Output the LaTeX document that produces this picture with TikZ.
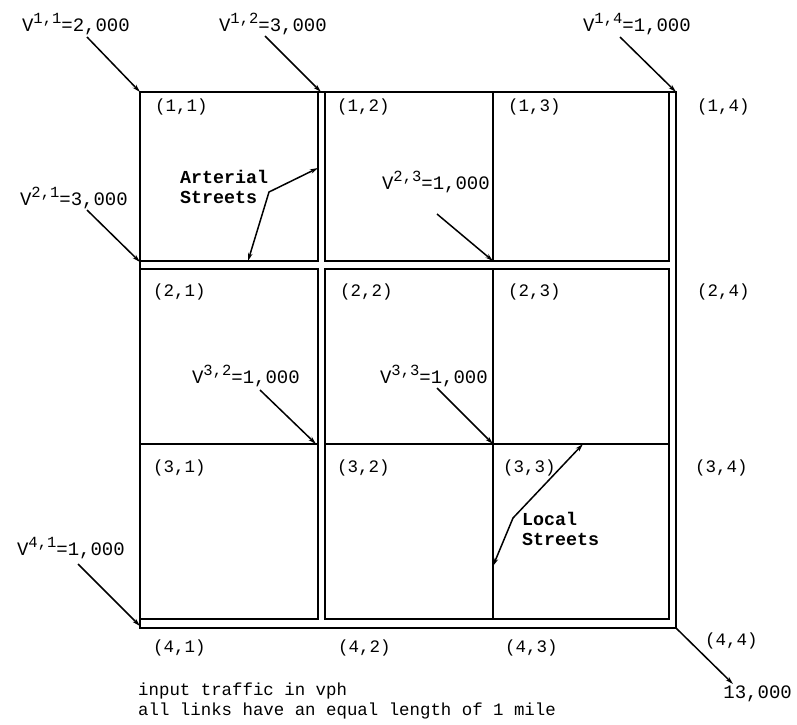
\documentclass[tikz,border=0pt]{standalone}
\usepackage{fontspec}
\newfontfamily\tw{Liberation Mono}
\usetikzlibrary{arrows.meta}
\newcommand\Vin[2]{V\raisebox{8pt}{\fontsize{15.5}{16}\selectfont #1}=#2}
\begin{document}
\begin{tikzpicture}[x=1pt,y=-1pt,
  street/.style={line width=1.7pt, line cap=rect},
  cell/.style={font=\tw\fontsize{17.5}{20}\selectfont, anchor=base west, inner sep=0pt},
  vlab/.style={font=\tw\fontsize{19}{22}\selectfont, anchor=base east, inner sep=0pt},
  note/.style={font=\tw\fontsize{17.4}{20}\selectfont, anchor=base west, inner sep=0pt},
  boldlab/.style={font=\tw\bfseries\fontsize{18.3}{20}\selectfont, anchor=base west, inner sep=0pt},
  flow/.style={line width=1.5pt, -{Stealth[length=8pt,width=4.5pt]}},
  ptr/.style={line width=1.5pt, {Stealth[length=8pt,width=4.5pt]}-{Stealth[length=8pt,width=4.5pt]}}
]
\useasboundingbox (0,0) rectangle (797,724);

% outer boundary
\draw[street] (140,92) rectangle (676,628);
% blocks
\draw[street] (140,92) rectangle (318,261);
\draw[street] (325,92) rectangle (669,261);
\draw[street] (140,269) rectangle (318,619);
\draw[street] (325,269) rectangle (669,619);
% local streets
\draw[street] (493,92) -- (493,261);
\draw[street] (493,269) -- (493,619);
\draw[street] (140,444) -- (318,444);
\draw[street] (325,444) -- (669,444);

% cell labels
\node[cell] (n11) at (155,111) {(1,1)};
\node[cell] (n12) at (337,111) {(1,2)};
\node[cell] (n13) at (508,111) {(1,3)};
\node[cell] (n14) at (697,111) {(1,4)};
\node[cell] (n21) at (153,296) {(2,1)};
\node[cell] (n22) at (340,296) {(2,2)};
\node[cell] (n23) at (508,296) {(2,3)};
\node[cell] (n24) at (697,296) {(2,4)};
\node[cell] (n31) at (153,472) {(3,1)};
\node[cell] (n32) at (337,472) {(3,2)};
\node[cell] (n33) at (503,472) {(3,3)};
\node[cell] (n34) at (695,472) {(3,4)};
\node[cell] (n41) at (153,652) {(4,1)};
\node[cell] (n42) at (338,652) {(4,2)};
\node[cell] (n43) at (505,652) {(4,3)};
\node[cell] (n44) at (705,645) {(4,4)};

% input labels
\node[vlab] (v11) at (130,31) {\Vin{1,1}{2,000}};
\node[vlab] (v12) at (327,31) {\Vin{1,2}{3,000}};
\node[vlab] (v14) at (691,31) {\Vin{1,4}{1,000}};
\node[vlab] (v21) at (128,205) {\Vin{2,1}{3,000}};
\node[vlab] (v23) at (490,189) {\Vin{2,3}{1,000}};
\node[vlab] (v32) at (300,383) {\Vin{3,2}{1,000}};
\node[vlab] (v33) at (488,383) {\Vin{3,3}{1,000}};
\node[vlab] (v41) at (125,555) {\Vin{4,1}{1,000}};
\node[vlab] (out) at (792,698) {13,000};

% arrow coordinates
\coordinate (s11) at (87,37);   \coordinate (e11) at (140,92);
\coordinate (s12) at (265,36);  \coordinate (e12) at (321,92);
\coordinate (s14) at (620,37);  \coordinate (e14) at (676,92);
\coordinate (s21) at (87,210);  \coordinate (e21) at (140,262);
\coordinate (s23) at (437,214); \coordinate (e23) at (493,261);
\coordinate (s32) at (260,390); \coordinate (e32) at (316,444);
\coordinate (s33) at (437,388); \coordinate (e33) at (493,444);
\coordinate (s41) at (78,564);  \coordinate (e41) at (140,626);
\coordinate (so) at (676,628);  \coordinate (eo) at (733,684);

\draw[flow] (s11) -- (e11);
\draw[flow] (s12) -- (e12);
\draw[flow] (s14) -- (e14);
\draw[flow] (s21) -- (e21);
\draw[flow] (s23) -- (e23);
\draw[flow] (s32) -- (e32);
\draw[flow] (s33) -- (e33);
\draw[flow] (s41) -- (e41);
\draw[flow] (so) -- (eo);

% street type labels
\node[boldlab] (art1) at (180,183) {Arterial};
\node[boldlab] (art2) at (180,203) {Streets};
\node[boldlab] (loc1) at (522,525) {Local};
\node[boldlab] (loc2) at (522,545) {Streets};

\coordinate (a1) at (248,261); \coordinate (ab) at (269,192); \coordinate (a2) at (318,168);
\draw[ptr] (a1) -- (ab) -- (a2);
\coordinate (l1) at (493,566); \coordinate (lb) at (513,518); \coordinate (l2) at (583,444);
\draw[ptr] (l1) -- (lb) -- (l2);

% notes
\node[note] (t1) at (138,695) {input traffic in vph};
\node[note] (t2) at (138,715) {all links have an equal length of 1 mile};
\end{tikzpicture}
\end{document}
